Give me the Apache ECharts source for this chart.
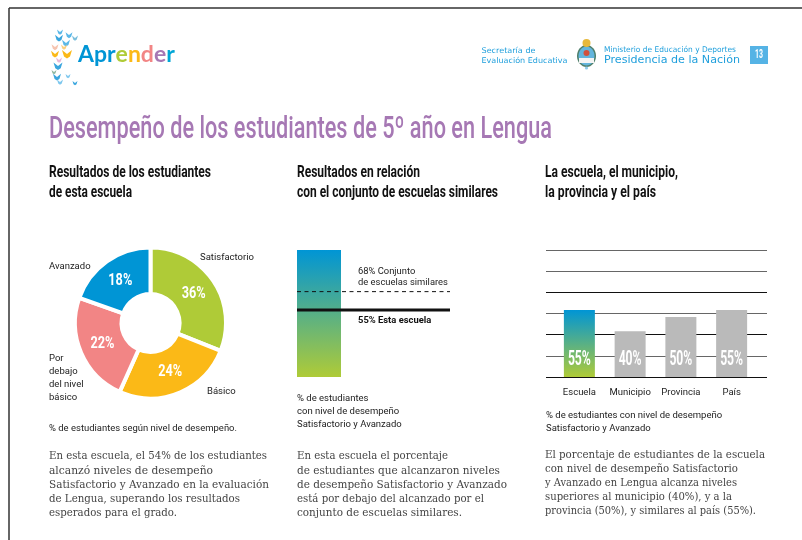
<!DOCTYPE html>
<html><head><meta charset="utf-8">
<style>html,body{margin:0;padding:0;background:#fff}#c{width:802px;height:540px}</style>
<script src="https://cdn.jsdelivr.net/npm/echarts@6/dist/echarts.min.js"></script>
</head><body><div id="c"></div>
<script>
// Doughnut: the printed percentages, and the slice shares as measured from the drawn angles
// (the reference's slices are not proportional to its printed numbers).
const levelNames = ['Satisfactorio','Básico','Por debajo del nivel básico','Avanzado'];
const levelPrinted = [36,24,22,18];
const levelDrawnShare = [31,25.7,23.7,19.6];
const levelColors = ['#afcb37','#fbb917','#f28585','#0095d5'];
// Comparison with similar schools
const similarSchools = 68;
const thisSchool = 55;
// Comparison by territory
const areaNames = ['Escuela','Municipio','Provincia','País'];
const areaValues = [55,40,50,55];

const BLUE='#0095d5', GREEN='#afcb37', GRAY='#bababa', PURPLE='#a678b4', INK='#222';
const vGrad=()=>new echarts.graphic.LinearGradient(0,0,0,1,[{offset:0,color:BLUE},{offset:1,color:GREEN}]);
const SANS='Roboto', SLAB='"DejaVu Serif Condensed"';

const measure=document.createElement('canvas').getContext('2d');
function narrowBy(text,font,target){measure.font=font;return target/measure.measureText(text).width;}
function T(x,y,text,o={}){
  const size=o.size||9.5, weight=o.weight||'normal', family=o.family||SANS, font=weight+' '+size+'px '+family;
  const scaleX=o.fit?narrowBy(text,font,o.fit):1;
  return {type:'text',x,y:y+1,z:50,scaleX,silent:true,style:{text,fill:o.color||INK,font,align:o.align||'left',verticalAlign:'middle'}};
}
const g=[];
// page frame
g.push({type:'line',shape:{x1:9,y1:8,x2:802,y2:8},style:{stroke:'#333',lineWidth:1.5}});
g.push({type:'line',shape:{x1:9,y1:8,x2:9,y2:540},style:{stroke:'#333',lineWidth:1.5}});
// logo birds
const birds=[[60,32,'#5bb8e8',3],[69,35,'#5bb8e8',3.5],[75,38,'#7bbfdc',3],[59,38,'#3aa6de',4],[66,43,'#5bb8e8',4],[55,47,'#f6c4b0',3.5],[64,47,'#fbd080',3],[55,54,'#fbb917',4],[67,54,'#fbb917',5],[59,60,'#e8b8d8',3],[58,66,'#3aa6de',4.5],[54,72,'#8fb8a0',2.5],[57,77,'#3aa6de',4],[60,82,'#7fc8ee',3],[68,76,'#7fc8ee',2.5],[75,83,'#3aa6de',2.5]];
birds.forEach(([x,y,c,s])=>g.push({type:'polygon',silent:true,shape:{points:[[x-s,y-s*.8],[x,y],[x+s,y-s*.8],[x+s*.6,y+s*.5],[x,y+s*.9],[x-s*.6,y+s*.5]]},style:{fill:c}}));
const lf='bold 23px Lato';
g.push({type:'text',x:78,y:55,silent:true,style:{rich:{a:{fill:BLUE,font:lf},e:{fill:GREEN,font:lf},n:{fill:'#fbb917',font:lf},d:{fill:'#f28585',font:lf},p:{fill:PURPLE,font:lf},r:{fill:'#00a6d6',font:lf}},text:'{a|Apr}{e|e}{n|n}{d|d}{p|e}{r|r}',verticalAlign:'middle'}});
// header right
const LB='#1f9fdc', DV='"DejaVu Sans"';
g.push(T(481.5,50,'Secretaría de',{size:7.8,color:LB,family:DV,fit:54}));
g.push(T(481.5,60,'Evaluación Educativa',{size:7.8,color:LB,family:DV,fit:86}));
g.push(T(604,49,'Ministerio de Educación y Deportes',{size:7.8,color:LB,family:DV,fit:132}));
g.push(T(604,59,'Presidencia de la Nación',{size:10.5,color:LB,family:DV,fit:136}));
// coat of arms
g.push({type:'ellipse',silent:true,shape:{cx:586.5,cy:56,rx:9.5,ry:11},style:{fill:'#4f7f6a'}});
g.push({type:'ellipse',silent:true,shape:{cx:586.5,cy:56,rx:8,ry:9.5},style:{fill:'#63b5dd'}});
g.push({type:'rect',silent:true,shape:{x:579,y:58,width:15,height:5},style:{fill:'#f4f4f4'}});
g.push({type:'circle',silent:true,shape:{cx:586.5,cy:53,r:3},style:{fill:'#d2503c'}});
g.push({type:'circle',silent:true,shape:{cx:586.5,cy:43,r:4},style:{fill:'#e7b93c'}});
g.push({type:'circle',silent:true,shape:{cx:586.5,cy:68,r:1.6},style:{fill:'#8fcbea'}});
g.push({type:'rect',silent:true,shape:{x:750,y:46,width:18,height:18},style:{fill:'#55b3e5'}});
g.push(T(755,54,'13',{size:12,color:'#fff',weight:'bold',fit:8}));
// title and headings
const H={size:16.5,weight:'bold',color:'#111'};
g.push(T(49,129.5,'Desempeño de los estudiantes de 5º año en Lengua',{size:31,color:PURPLE,weight:500,fit:503}));
g.push(T(49,172,'Resultados de los estudiantes',{...H,fit:162}));
g.push(T(49,192,'de esta escuela',{...H,fit:83}));
g.push(T(297,172,'Resultados en relación',{...H,fit:123}));
g.push(T(297,192,'con el conjunto de escuelas similares',{...H,fit:201}));
g.push(T(545,172,'La escuela, el municipio,',{...H,fit:133}));
g.push(T(545,192,'la provincia y el país',{...H,fit:111}));
// doughnut callouts
g.push(T(200,257,'Satisfactorio'));
g.push(T(49,266,'Avanzado'));
['Por','debajo','del nivel','básico'].forEach((s,i)=>g.push(T(49,358+i*13,s)));
g.push(T(207,391,'Básico'));
g.push(T(49,428,'% de estudiantes según nivel de desempeño.',{size:9,fit:188}));
// doughnut printed percentages, centred on each ring segment
const PIE={cx:150.5,cy:323,r0:29,r:75.5}, ringMid=(PIE.r0+PIE.r)/2;
const shareTotal=levelDrawnShare.reduce((a,b)=>a+b,0);
let acc=0;
levelPrinted.forEach((v,i)=>{
  const a=(acc+levelDrawnShare[i]/2)/shareTotal*2*Math.PI; acc+=levelDrawnShare[i];
  g.push(T(PIE.cx+ringMid*Math.sin(a),PIE.cy-ringMid*Math.cos(a)-1,v+'%',{size:17,weight:'bold',color:'#fff',align:'center',fit:24}));
});
// middle annotations
g.push(T(358,271,similarSchools+'% Conjunto',{size:9.4}));
g.push(T(358,282,'de escuelas similares',{size:9.4}));
g.push(T(358,320,thisSchool+'% Esta escuela',{size:9.4,weight:'bold',color:'#111'}));
['% de estudiantes','con nivel de desempeño','Satisfactorio y Avanzado'].forEach((s,i)=>g.push(T(297,397.5+i*13.3,s,{size:9.5})));
// right caption
g.push(T(546,415,'% de estudiantes con nivel de desempeño',{size:9.5}));
g.push(T(546,428,'Satisfactorio y Avanzado',{size:9.5}));
// body copy
const body=[[49,[455,470,484,498,512],['En esta escuela, el 54% de los estudiantes','alcanzó niveles de desempeño','Satisfactorio y Avanzado en la evaluación','de Lengua, superando los resultados','esperados para el grado.'],[218,164,220,191,128]],
[297,[455,470,484,498,512],['En esta escuela el porcentaje','de estudiantes que alcanzaron niveles','de desempeño Satisfactorio y Avanzado','está por debajo del alcanzado por el','conjunto de escuelas similares.'],[151,203,210,187,165]],
[545,[454,468,482,496,510],['El porcentaje de estudiantes de la escuela','con nivel de desempeño Satisfactorio','y Avanzado en Lengua alcanza niveles','superiores al municipio (40%), y a la','provincia (50%), y similares al país (55%).'],[220,193,192,187,211]]];
body.forEach(([x,ys,ls,ws])=>ls.forEach((s,i)=>g.push(T(x,ys[i],s,{size:11,family:SLAB,color:'#444',fit:ws[i]}))));

const hidden={show:false};
const option={
  animation:false,
  backgroundColor:'#fff',
  graphic:g,
  grid:[
    {left:297,top:250,width:44,height:127},   // gradient column
    {left:297,top:250,width:153,height:127},  // its reference lines
    {left:546,top:250,width:221,height:127},  // rules of the bar chart
    {left:554,top:250,width:203,height:127}   // bars
  ],
  xAxis:[
    {gridIndex:0,type:'category',data:['Esta escuela'],show:false},
    {gridIndex:1,type:'value',min:0,max:1,show:false},
    {gridIndex:2,type:'value',min:0,max:1,show:false},
    {gridIndex:3,type:'category',data:areaNames,axisLine:hidden,axisTick:hidden,
     axisLabel:{color:INK,fontFamily:SANS,fontSize:9.5,margin:11,interval:0,hideOverlap:false}}
  ],
  yAxis:[0,1,2,3].map(i=>({gridIndex:i,type:'value',min:7.5,max:97.5,interval:15,
     axisLine:hidden,axisTick:hidden,axisLabel:hidden,
     splitLine:i===2?{show:true,lineStyle:{width:1,color:['#111','#666','#111','#666','#111','#666','#666']}}:hidden})),
  series:[
    {type:'pie',radius:[PIE.r0,PIE.r],center:[PIE.cx,PIE.cy],startAngle:90,clockwise:true,
     silent:true,label:hidden,labelLine:hidden,z:1,
     itemStyle:{borderColor:'#fff',borderWidth:4},
     data:levelNames.map((name,i)=>({name,value:levelDrawnShare[i],itemStyle:{color:levelColors[i]}}))},
    {type:'bar',xAxisIndex:0,yAxisIndex:0,barWidth:'100%',silent:true,
     itemStyle:{color:vGrad()},data:[100]},
    {type:'line',xAxisIndex:1,yAxisIndex:1,symbol:'none',silent:true,
     lineStyle:{color:'#111',width:1,type:[4,3.5]},data:[[0,similarSchools],[1,similarSchools]]},
    {type:'line',xAxisIndex:1,yAxisIndex:1,symbol:'none',silent:true,z:3,
     lineStyle:{color:'#111',width:3},data:[[0,thisSchool],[1,thisSchool]]},
    {type:'bar',xAxisIndex:3,yAxisIndex:3,barWidth:31,silent:true,
     data:areaValues.map((value,i)=>({value,itemStyle:{color:i===0?vGrad():GRAY}}))},
    {type:'custom',xAxisIndex:3,yAxisIndex:3,silent:true,z:5,clip:false,
     encode:{x:0,y:1},data:areaValues.map((v,i)=>[i,v]),
     renderItem:(p,api)=>{
       const pt=api.coord([api.value(0),7.5]), text=api.value(1)+'%', font='bold 20px Roboto';
       return {type:'text',x:pt[0],y:pt[1]-17.5,scaleX:narrowBy(text,font,23),
         style:{text,font,fill:'#fff',align:'center',verticalAlign:'middle'}};
     }}
  ]
};
const chart=echarts.init(document.getElementById('c'),null,{renderer:'canvas'});
chart.setOption(option);
</script></body></html>
